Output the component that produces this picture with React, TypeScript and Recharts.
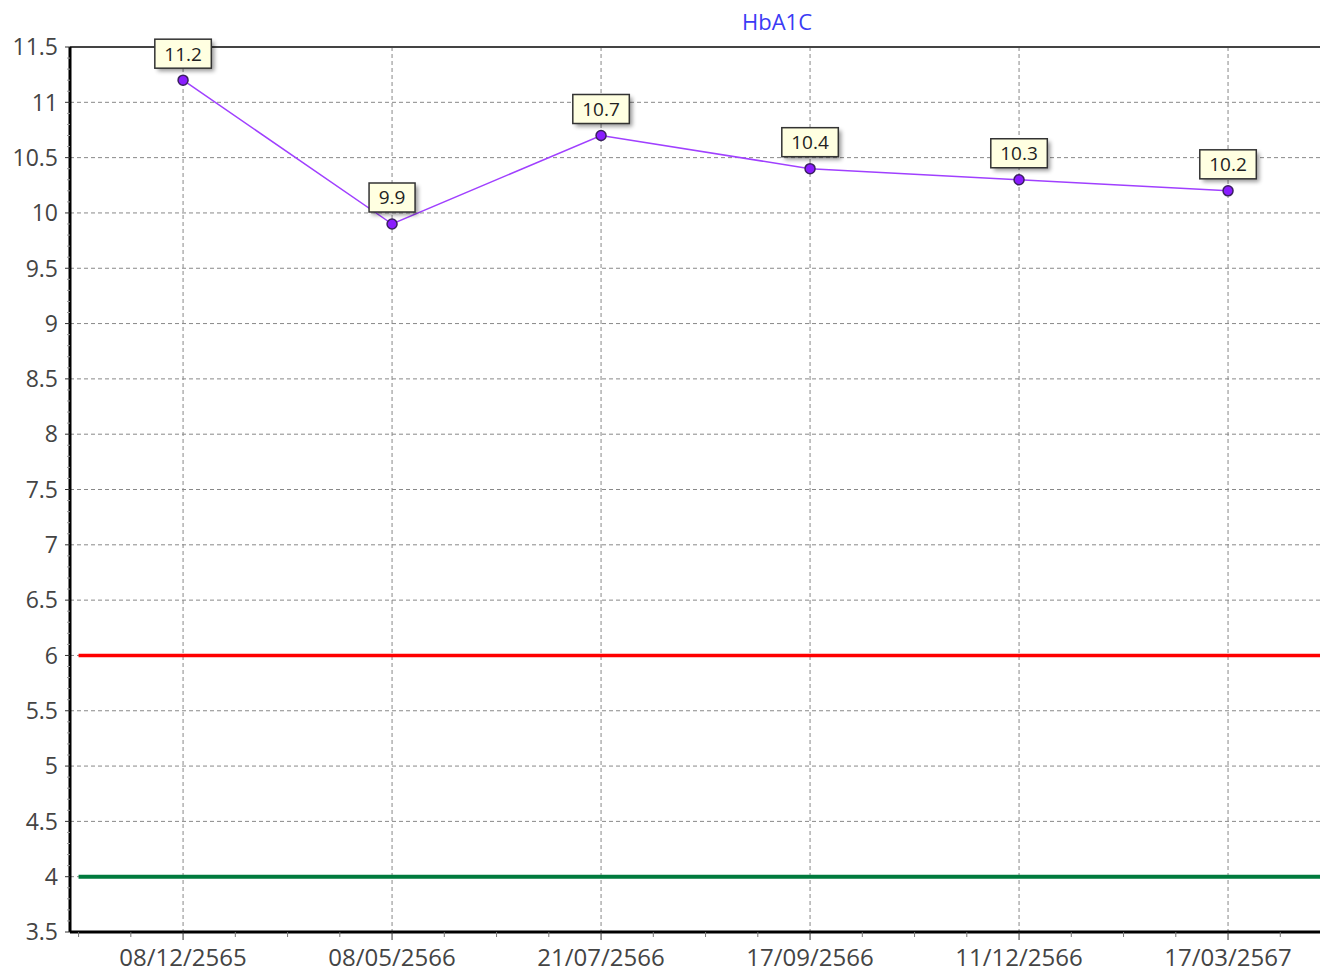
import React from "react";
import {
  LineChart,
  Line,
  XAxis,
  YAxis,
  CartesianGrid,
  ReferenceLine,
  LabelList,
} from "recharts";

const categories = ["08/12/2565", "08/05/2566", "21/07/2566", "17/09/2566", "11/12/2566", "17/03/2567"];
const hba1cValues = [11.2, 9.9, 10.7, 10.4, 10.3, 10.2];
const yMajorTicks = [3.5, 4, 4.5, 5, 5.5, 6, 6.5, 7, 7.5, 8, 8.5, 9, 9.5, 10, 10.5, 11, 11.5];
const upperLimit = 6;
const lowerLimit = 4;
const chartTitle = "HbA1C";

const data = categories.map((c, i) => ({ idx: i, date: c, value: hba1cValues[i] }));

// minor ticks (5 per half unit on Y, 4 per category on X)
const yTicks: number[] = [];
yMajorTicks.forEach((t, i) => {
  yTicks.push(t);
  if (i < yMajorTicks.length - 1) {
    for (let k = 1; k < 5; k++) yTicks.push(+(t + k * 0.1).toFixed(2));
  }
});
const xTicks: number[] = [];
for (let i = -2; i <= 21; i++) xTicks.push(i * 0.25);
const xMajor = categories.map((_, i) => i);

const FONT = "'Open Sans', 'Noto Sans', sans-serif";
const X_MIN = -0.541;
const X_MAX = 5.44;

const XTick = (props: any) => {
  const { x, y, payload } = props;
  const v = payload.value;
  const isMajor = Math.abs(v - Math.round(v)) < 1e-6 && v >= 0 && v < categories.length;
  return (
    <g>
      <line x1={x} x2={x} y1={y} y2={y + (isMajor ? 8 : 5)} stroke={isMajor ? "#333" : "#777"} strokeWidth={1} />
      {isMajor && (
        <text x={x} y={y + 34} textAnchor="middle" fontFamily={FONT} fontSize={24} fill="#444">
          {categories[Math.round(v)]}
        </text>
      )}
    </g>
  );
};

const YTick = (props: any) => {
  const { x, y, payload } = props;
  const v = payload.value;
  const isMajor = yMajorTicks.some((t) => Math.abs(t - v) < 1e-6);
  return (
    <g>
      <line x1={x - (isMajor ? 5 : 3)} x2={x} y1={y} y2={y} stroke={isMajor ? "#333" : "#999"} strokeWidth={1} />
      {isMajor && (
        <text x={x - 12} y={y} dy="0.36em" textAnchor="end" fontFamily={FONT} fontSize={23} fill="#444">
          {String(v)}
        </text>
      )}
    </g>
  );
};

const ValueLabel = (props: any) => {
  const { x, y, value } = props;
  const s = String(value);
  let w = 20;
  for (const ch of s) w += ch === "." ? 5 : 10.5;
  const h = 29;
  return (
    <g>
      <rect x={x - w / 2 + 3} y={y - 41 + 3} width={w} height={h} fill="#000" opacity={0.4} filter="url(#lblShadow)" />
      <rect x={x - w / 2} y={y - 41} width={w} height={h} fill="#ffffe1" stroke="#333" strokeWidth={1.5} />
      <text x={x} y={y - 26.5} dy="0.36em" textAnchor="middle" fontFamily={FONT} fontSize={19} fill="#222">
        {s}
      </text>
    </g>
  );
};

const Dot = (props: any) => {
  const { cx, cy } = props;
  return <circle cx={cx} cy={cy} r={5} fill="#8a1cff" stroke="#3a2060" strokeWidth={1.5} />;
};

export default function App() {
  return (
    <div style={{ position: "absolute", left: 0, top: 0, width: 1320, height: 973, overflow: "hidden", background: "#fff" }}>
      <svg width={0} height={0} style={{ position: "absolute" }}>
        <defs>
          <filter id="lblShadow" x="-50%" y="-50%" width="200%" height="200%">
            <feGaussianBlur stdDeviation="2" />
          </filter>
        </defs>
      </svg>
      <div
        style={{
          position: "absolute",
          left: 677,
          width: 200,
          top: 6,
          textAlign: "center",
          fontFamily: FONT,
          fontSize: 22,
          lineHeight: "30px",
          color: "#3b3bf5",
        }}
      >
        {chartTitle}
      </div>
      <LineChart width={1320} height={973} data={data} margin={{ top: 47, right: 0, bottom: 0, left: 0 }}>
        <CartesianGrid
          stroke="#888"
          strokeDasharray="4 3"
          horizontalValues={yMajorTicks}
          verticalValues={xMajor}
        />
        <XAxis
          dataKey="idx"
          type="number"
          domain={[X_MIN, X_MAX]}
          allowDataOverflow
          ticks={xTicks}
          interval={0}
          tickSize={0}
          tickMargin={0}
          tickLine={false}
          tick={<XTick />}
          height={41}
          axisLine={{ stroke: "#000", strokeWidth: 3 }}
        />
        <YAxis
          type="number"
          domain={[3.5, 11.5]}
          allowDataOverflow
          ticks={yTicks}
          interval={0}
          tickSize={0}
          tickMargin={0}
          tickLine={false}
          tick={<YTick />}
          width={70}
          axisLine={{ stroke: "#000", strokeWidth: 3 }}
        />
        <ReferenceLine y={11.5} stroke="#444" strokeWidth={2} />
        <ReferenceLine
          segment={[
            { x: -0.5, y: upperLimit },
            { x: X_MAX, y: upperLimit },
          ]}
          stroke="#ff0000"
          strokeWidth={3.5}
        />
        <ReferenceLine
          segment={[
            { x: -0.5, y: lowerLimit },
            { x: X_MAX, y: lowerLimit },
          ]}
          stroke="#007a3d"
          strokeWidth={4}
        />
        <Line
          type="linear"
          dataKey="value"
          stroke="#a040ff"
          strokeWidth={1.5}
          dot={<Dot />}
          activeDot={false}
          isAnimationActive={false}
        >
          <LabelList dataKey="value" content={<ValueLabel />} />
        </Line>
      </LineChart>
    </div>
  );
}
